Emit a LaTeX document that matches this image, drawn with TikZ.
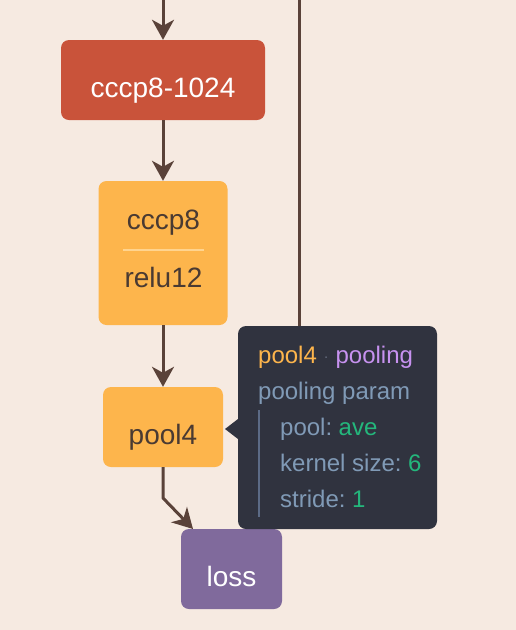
\documentclass[tikz,border=0pt]{standalone}
\usepackage{fontspec}
\setmainfont{Liberation Sans}
\usetikzlibrary{arrows.meta,calc}
\definecolor{bg}{HTML}{F6EAE1}
\definecolor{redbox}{HTML}{C9533A}
\definecolor{orangebox}{HTML}{FDB54C}
\definecolor{sepline}{HTML}{FFD48F}
\definecolor{purplebox}{HTML}{806A9C}
\definecolor{darktext}{HTML}{4A3A32}
\definecolor{edge}{HTML}{5A4239}
\definecolor{tipbg}{HTML}{30333F}
\definecolor{tiptext}{HTML}{809AB6}
\definecolor{tiporange}{HTML}{FDB54C}
\definecolor{tippurple}{HTML}{C792F0}
\definecolor{tipgreen}{HTML}{24B77C}
\definecolor{tipdot}{HTML}{6A7284}
\definecolor{tipbar}{HTML}{5C6B86}
\begin{document}
\begin{tikzpicture}[x=1pt,y=-1pt,
  box/.style={rounded corners=8pt, inner sep=0pt, font=\fontsize{28}{30}\selectfont,
              text height=34pt, text depth=0pt},
  plainbox/.style={rounded corners=8pt, inner sep=0pt},
  lbl/.style={inner sep=0pt, anchor=base, font=\fontsize{28}{30}\selectfont, text=darktext},
  tip/.style={inner sep=0pt, anchor=base west, font=\fontsize{24}{26}\selectfont, text=tiptext},
  arr/.style={draw=edge, line width=3pt, line join=round, -{Stealth[length=20pt,width=22pt,inset=6pt]}},
  link/.style={draw=edge, line width=3pt}
]
\fill[bg] (0,0) rectangle (516,630);
\useasboundingbox (0,0) rectangle (516,630);

% nodes
\node[box, fill=redbox, text=white, minimum width=204pt, minimum height=80pt] (c1024) at (163,80) {cccp8-1024};
\node[plainbox, fill=orangebox, minimum width=129pt, minimum height=144pt] (c8) at (163,253) {};
\node[lbl] (c8a) at (163.5,229) {cccp8};
\node[lbl] (c8b) at (163.5,287) {relu12};
\draw[sepline, line width=1.5pt] (123,250) -- (204,250);
\node[box, fill=orangebox, text=darktext, minimum width=120pt, minimum height=80pt] (pool) at (163,427) {pool4};
\node[box, fill=purplebox, text=white, minimum width=101pt, minimum height=80pt] (loss) at (231.5,569) {loss};

% connectors
\coordinate (topL) at (163,0);
\coordinate (topR) at (299,0);
\coordinate (bend) at (163,498);
\coordinate (lossin) at (193,529);
\draw[arr] (topL) -- (c1024.north);
\draw[arr] (c1024.south) -- (c8.north);
\draw[arr] (c8.south) -- (pool.north);
\draw[arr] (pool.south) -- (bend) -- (lossin);
\draw[link] (topR) -- (299,400);

% tooltip
\node[plainbox, fill=tipbg, minimum width=199pt, minimum height=203pt] (tipbox) at (337.5,427.5) {};
\fill[tipbg] (238,419) -- (225,429) -- (238,439) -- cycle;
\node[tip] (t1) at (258,363) {\textcolor{tiporange}{pool4}\hspace{7pt}\textcolor{tipdot}{\fontsize{14}{14}\selectfont\raisebox{2pt}{·}}\hspace{7pt}\textcolor{tippurple}{pooling}};
\node[tip] (t2) at (258,399) {pooling param};
\draw[tipbar, line width=1.5pt] (259,410) -- (259,517);
\node[tip] (t3) at (280,435) {pool:\hspace{6.5pt}\textcolor{tipgreen}{ave}};
\node[tip] (t4) at (280,471) {kernel size:\hspace{6.5pt}\textcolor{tipgreen}{6}};
\node[tip] (t5) at (280,507) {stride:\hspace{6.5pt}\textcolor{tipgreen}{1}};
\end{tikzpicture}
\end{document}
